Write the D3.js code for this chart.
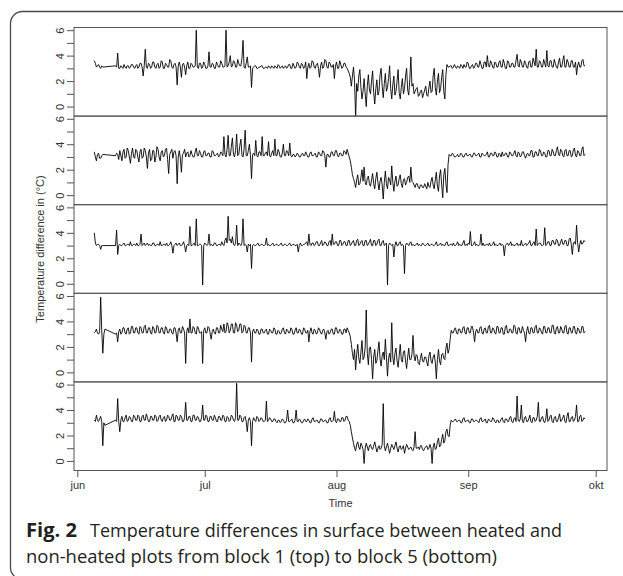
<!DOCTYPE html>
<html><head><meta charset="utf-8">
<script src="https://cdn.jsdelivr.net/npm/d3@7"></script>
<style>html,body{margin:0;padding:0;background:#fff;} svg{display:block;}</style>
</head><body>
<script>
// ---------- data (6-hourly readings from 5 Jun, null = no record) ----------
const seriesStart = "2013-06-05 00:00";
const stepHours = 6;

const block1 = [
3.6,3.4,3.1,3.2,3.3,3.1,3.0,3.2,3.1,null,null,null,null,null,null,null,null,null,null,null,
3.2,3.1,4.2,3.0,3.0,3.2,3.1,3.0,3.3,3.1,3.0,3.2,3.2,3.0,3.1,3.3,3.3,3.1,3.0,3.2,
3.3,3.0,3.1,3.4,3.4,3.1,2.4,3.2,4.5,3.1,3.0,3.4,3.3,3.0,3.1,3.5,3.5,3.1,3.0,3.3,
3.4,3.0,3.1,3.6,3.5,3.0,3.0,3.4,3.3,3.1,3.1,3.7,3.6,3.1,3.0,3.3,3.4,3.1,1.7,3.2,
3.5,3.1,2.3,3.3,3.4,3.1,2.5,3.2,3.5,3.0,3.0,3.4,3.3,3.1,3.1,3.2,6.0,3.1,3.0,3.4,
3.4,3.0,3.1,3.5,3.3,3.0,3.0,3.2,4.3,3.1,3.1,3.4,3.3,3.0,3.0,3.5,3.3,3.1,3.1,3.6,
3.4,3.1,3.1,3.2,6.0,3.1,3.2,3.5,4.0,3.1,3.2,3.6,3.5,3.1,3.1,3.7,3.4,3.2,3.2,3.8,
5.2,3.1,3.0,3.4,3.9,3.1,3.1,3.2,1.5,3.0,3.1,3.2,3.2,3.0,3.0,3.1,3.1,3.2,3.2,3.0,
3.0,3.1,3.1,3.0,3.2,3.1,3.0,3.2,3.1,3.0,3.2,3.1,3.0,3.3,3.2,3.0,3.1,3.2,3.0,3.1,
3.2,3.0,3.1,3.3,3.3,3.0,3.0,3.4,3.2,3.0,3.1,3.5,3.4,3.1,3.0,3.4,3.3,3.0,3.1,3.5,
2.2,3.1,3.4,3.0,3.1,3.6,3.5,3.1,3.0,3.3,3.4,3.0,2.3,3.2,3.5,3.0,3.1,3.7,3.6,3.1,
3.0,3.5,3.4,3.1,3.1,3.3,2.2,3.2,3.5,3.0,3.0,3.6,3.3,3.0,3.1,3.4,3.4,3.1,3.0,2.8,
2.6,2.3,1.6,2.4,3.1,2.0,-0.9,1.8,1.2,2.4,2.9,1.5,0.6,1.2,2.2,1.0,0.0,1.6,2.5,1.3,
1.0,2.0,2.8,1.1,0.2,1.4,2.1,0.9,1.2,2.5,3.0,1.6,0.7,1.8,2.6,1.2,1.5,2.2,3.2,1.4,
0.6,1.7,2.4,0.9,1.2,2.0,2.9,1.1,0.6,1.5,2.2,1.0,1.4,2.4,3.0,1.3,0.9,2.1,3.9,1.6,
1.8,1.0,1.2,1.4,1.5,0.8,0.9,1.2,1.3,0.7,1.0,1.3,1.6,0.9,0.8,1.5,2.0,1.1,1.2,2.4,
3.0,1.5,0.9,2.0,2.6,1.1,1.4,2.3,2.9,1.2,0.6,2.5,3.3,3.1,3.1,3.2,3.2,3.0,3.1,3.3,
3.1,3.0,3.2,3.1,3.0,3.3,3.2,3.0,3.3,3.1,3.1,3.5,3.4,3.0,3.0,3.2,3.3,3.0,3.1,3.4,
3.4,3.1,3.1,3.6,3.3,3.0,3.0,3.5,3.5,3.1,4.0,3.2,3.1,3.6,3.4,3.1,3.0,3.5,3.4,3.1,
3.1,3.5,3.6,3.1,3.1,3.7,3.4,3.0,3.0,3.6,3.5,3.1,3.1,3.4,3.4,3.1,3.1,3.6,4.1,3.2,
3.1,3.7,3.5,3.1,3.1,3.6,3.4,3.1,3.0,3.5,3.6,3.1,3.1,3.8,3.5,3.2,4.5,3.1,3.1,3.6,
3.5,3.1,3.1,3.7,3.4,3.1,4.4,3.2,3.1,3.6,3.6,3.1,3.1,3.7,3.4,3.1,3.0,3.5,3.8,3.1,
3.1,3.6,4.0,3.1,3.1,3.7,3.5,3.1,3.1,3.6,3.6,3.1,3.1,3.5,2.5,3.2,3.5,3.1,3.1,3.6,
3.7,3.2,3.2];

const block2 = [
3.4,3.0,2.7,3.2,3.3,2.9,2.9,3.1,3.2,null,null,null,null,null,null,null,null,null,null,null,
3.1,3.3,3.2,2.8,3.5,3.1,2.7,3.4,3.6,2.9,3.0,3.7,3.5,3.0,2.5,3.3,3.7,3.0,2.9,3.6,
3.5,3.0,2.6,3.4,3.6,2.9,3.0,3.7,3.5,3.0,2.1,3.3,3.6,2.7,2.8,3.5,3.5,2.6,3.0,3.8,
3.6,3.0,2.7,3.4,3.5,3.0,3.1,3.6,3.7,2.8,1.7,3.2,3.4,3.6,2.9,3.4,3.5,3.1,0.9,3.0,
3.5,2.9,1.8,3.2,3.3,3.6,3.0,3.3,3.4,3.0,3.1,3.5,3.2,3.0,3.0,3.4,3.7,3.1,3.1,3.5,
3.3,3.0,3.0,3.4,3.5,3.1,3.1,3.3,3.3,3.0,3.0,3.5,3.4,3.1,3.1,3.2,3.3,3.0,3.1,3.4,
3.3,3.1,4.6,3.2,3.0,3.6,4.7,3.1,3.1,3.8,4.5,3.2,3.0,3.5,4.8,3.1,3.2,3.9,4.4,3.1,
3.0,3.6,5.1,3.1,3.1,3.5,4.0,3.1,1.3,3.2,3.3,3.1,4.3,3.1,3.0,3.4,3.4,3.1,4.6,3.1,
3.1,3.3,3.4,3.1,4.2,3.1,3.0,3.3,3.5,3.1,4.4,3.1,3.1,3.6,3.4,3.0,3.0,3.3,4.0,3.1,
3.1,3.5,3.4,3.1,4.1,3.1,3.0,3.2,3.2,3.0,3.1,3.3,3.2,3.0,3.0,3.2,3.3,3.1,3.1,3.4,
3.2,3.0,3.0,3.3,3.4,3.1,3.1,3.2,3.3,3.0,3.0,3.4,3.3,3.1,3.1,3.5,3.4,3.1,2.2,3.2,
3.2,3.0,3.0,3.4,3.4,3.1,3.1,3.5,3.5,3.1,3.0,3.3,3.3,3.1,3.1,3.5,3.4,3.2,3.6,3.3,
3.0,2.7,2.2,1.6,1.3,1.0,0.6,1.2,1.6,0.8,0.9,1.4,2.0,1.1,2.2,1.0,0.8,1.3,1.5,0.9,
0.7,1.2,1.7,0.9,0.5,1.3,1.8,1.0,0.4,1.1,1.4,0.8,-0.3,1.0,1.9,0.9,0.5,1.4,1.2,0.8,
2.3,1.0,0.3,1.1,1.5,0.7,0.8,1.3,1.6,0.9,0.6,1.2,1.3,0.8,1.0,1.4,1.5,1.0,2.2,1.1,
1.0,0.8,0.6,0.9,0.9,0.6,0.5,0.8,0.8,0.6,0.6,0.9,0.7,0.5,1.0,0.7,0.6,1.1,1.4,0.8,
0.5,1.2,1.8,0.7,0.3,1.5,2.0,0.8,-0.2,1.6,2.1,0.9,0.2,2.4,3.2,3.1,3.1,3.3,3.2,3.0,
3.0,3.1,3.2,3.0,3.1,3.3,3.2,3.0,3.0,3.2,3.3,3.1,3.1,3.2,3.2,3.0,3.0,3.3,3.3,3.1,
3.1,3.2,3.3,3.0,3.0,3.3,3.2,3.1,3.1,3.2,3.4,3.0,3.0,3.3,3.3,3.1,3.1,3.4,3.3,3.0,
3.0,3.3,3.2,3.0,3.4,3.1,3.1,3.3,3.3,3.0,3.0,3.4,3.3,3.1,3.1,3.3,3.5,3.1,3.0,3.4,
3.3,3.0,3.1,3.4,3.4,3.1,2.9,3.2,3.3,3.1,3.1,3.5,3.5,3.0,3.0,3.4,3.4,3.1,3.1,3.6,
3.5,3.1,3.1,3.4,3.3,3.0,3.0,3.5,3.5,3.1,3.1,3.6,3.4,3.1,3.1,3.5,3.8,3.2,3.1,3.6,
3.5,3.1,3.0,3.5,3.6,3.1,3.1,3.5,3.5,3.0,3.1,3.6,3.7,3.1,3.0,3.5,3.4,3.1,3.1,3.6,
3.8,3.1,3.2];

const block3 = [
4.0,3.2,3.0,3.1,3.1,3.0,2.7,3.0,3.0,null,null,null,null,null,null,null,null,null,null,null,
3.0,4.2,2.3,3.0,3.1,3.0,3.0,3.1,3.2,3.0,3.0,3.1,3.1,3.0,3.3,3.0,3.0,3.1,3.1,3.0,
3.2,3.0,3.0,3.1,3.9,3.0,3.1,3.2,3.0,3.1,3.2,3.0,3.1,3.0,3.0,3.2,3.2,3.0,3.0,3.1,
3.1,3.0,3.3,3.0,3.0,3.1,3.1,3.0,3.2,3.0,3.0,3.1,3.3,3.0,2.4,3.0,3.1,3.2,3.0,3.1,
3.2,3.0,3.0,3.1,3.3,3.0,2.5,3.0,3.1,3.0,4.5,3.0,3.0,3.1,3.2,3.0,5.1,3.0,3.0,3.1,
3.1,3.0,-0.1,3.0,3.2,3.1,3.0,3.1,3.9,3.0,3.1,3.0,3.0,3.2,3.2,3.0,3.0,3.1,3.1,3.0,
3.3,3.1,3.0,3.4,3.6,3.2,5.3,3.4,3.5,3.2,3.7,3.1,3.0,3.2,4.6,3.0,3.2,3.1,3.0,3.2,
5.1,3.0,3.1,3.0,2.5,3.1,3.0,3.1,1.2,3.0,3.1,3.0,3.0,3.1,3.2,3.0,3.0,3.1,3.1,3.0,
3.0,3.1,3.6,3.0,3.1,3.0,3.0,3.1,3.2,3.0,3.0,3.1,3.1,3.0,3.0,3.1,3.2,3.0,3.0,3.1,
3.1,3.0,3.0,3.1,3.2,3.0,3.0,3.1,3.1,3.0,3.0,3.1,2.5,3.0,3.2,3.0,3.0,3.1,3.1,3.2,
3.3,3.0,3.9,3.1,3.0,3.2,3.2,3.0,3.1,3.3,3.3,3.0,3.0,3.2,3.4,3.0,3.1,3.3,3.2,3.0,
3.0,3.3,3.4,3.0,3.9,3.1,3.1,3.3,3.3,3.0,3.0,3.4,3.4,3.0,3.1,3.3,3.3,3.0,3.0,3.4,
3.4,3.0,3.1,3.3,3.4,3.0,3.0,3.4,3.5,3.0,3.1,3.3,3.4,3.0,3.0,3.4,3.4,3.0,3.1,3.3,
3.5,3.0,3.0,3.4,3.4,3.0,3.1,3.4,3.5,3.0,3.0,3.3,3.4,3.0,3.1,3.2,-0.1,3.0,3.2,3.1,
3.0,3.1,2.1,3.0,3.3,3.0,3.0,3.2,3.3,3.0,3.1,3.0,0.8,3.0,3.2,3.1,3.0,3.2,3.3,3.0,
3.1,3.0,3.0,3.1,3.2,3.0,3.1,3.0,3.0,3.2,3.1,3.0,3.0,3.1,3.2,3.0,3.0,3.1,3.1,3.0,
3.0,3.1,3.3,3.0,3.0,3.1,3.2,3.0,3.1,3.0,3.0,3.2,3.3,3.0,3.0,3.1,3.1,3.0,3.2,3.0,
3.0,3.1,3.3,3.0,3.1,3.0,3.0,3.2,3.4,3.0,3.1,3.0,3.2,3.1,4.1,3.0,3.0,3.1,3.3,3.0,
3.1,3.0,3.0,3.1,3.9,3.0,3.2,3.0,3.0,3.1,3.1,3.0,3.2,3.0,3.0,3.1,3.3,3.0,3.1,3.0,
3.0,3.1,3.2,3.0,3.1,3.0,2.2,3.0,3.1,3.2,3.0,3.1,3.3,3.0,3.1,3.0,3.0,3.1,3.2,3.0,
3.1,3.0,3.4,3.0,3.0,3.1,3.2,3.0,3.1,3.2,3.4,3.0,3.0,3.2,3.3,3.0,4.3,3.0,3.1,3.2,
3.2,3.0,3.0,3.1,4.4,3.0,3.1,3.3,3.3,3.0,3.0,3.4,3.4,3.1,3.1,3.5,3.4,3.0,3.0,3.3,
3.5,3.1,3.1,3.4,3.4,3.0,3.0,3.5,3.6,3.1,2.3,3.2,3.3,3.1,4.6,3.2,2.5,3.1,3.4,3.1,
3.2,3.4,3.3];

const block4 = [
3.1,3.2,3.4,3.1,3.0,3.2,5.9,3.3,1.5,3.0,3.4,null,null,null,null,null,null,null,null,null,
3.0,3.1,2.4,3.2,3.4,3.0,3.1,3.5,3.5,3.1,3.0,3.4,3.5,3.0,3.1,3.6,3.6,3.1,3.1,3.5,
3.5,3.1,3.0,3.6,3.5,3.1,3.1,3.6,3.7,3.1,3.1,3.5,3.5,3.1,3.0,3.6,3.5,3.1,3.1,3.7,
3.6,3.1,3.1,3.5,3.5,3.1,3.0,3.6,3.5,3.1,3.1,3.4,3.4,3.1,3.0,3.5,3.5,3.1,2.4,3.3,
3.5,3.1,3.1,3.6,3.4,3.1,0.7,3.2,3.5,3.1,4.2,3.1,3.1,3.6,3.5,3.1,3.0,3.6,3.5,3.1,
3.1,3.2,0.7,3.3,3.5,3.1,3.1,3.6,3.5,3.1,2.6,3.2,3.4,3.1,3.0,3.5,3.5,3.1,3.1,3.7,
3.4,3.2,3.8,3.1,3.2,3.9,3.7,3.1,3.3,3.8,3.8,3.1,3.1,3.9,3.7,3.2,3.3,3.8,3.8,3.1,
3.2,3.7,3.6,3.1,3.1,3.5,3.5,3.1,0.8,3.2,3.4,3.1,3.1,3.4,3.3,3.0,3.0,3.4,3.4,3.1,
3.1,3.3,3.4,3.0,3.0,3.4,3.3,3.1,3.1,3.5,3.4,3.0,3.0,3.3,3.2,3.0,3.1,3.4,3.5,3.1,
3.0,3.4,3.3,3.1,3.1,3.5,3.4,3.0,3.0,3.3,3.5,3.1,3.1,3.4,3.3,3.0,3.0,3.5,3.4,3.1,
3.1,3.3,2.4,3.2,3.5,3.1,3.0,3.4,3.3,3.0,3.1,3.5,3.4,3.1,3.0,3.3,3.4,3.1,2.6,3.2,
3.3,3.0,3.1,3.4,3.4,3.0,3.0,3.5,3.5,3.1,3.1,3.4,3.3,3.0,3.0,3.4,3.4,3.1,3.5,3.3,
3.1,2.8,2.2,1.5,1.0,1.8,0.2,1.4,2.2,1.1,0.7,1.6,2.5,1.0,1.2,2.0,4.9,1.5,0.6,1.9,
2.0,1.0,-0.5,1.2,1.8,0.7,0.9,1.7,2.4,1.1,0.5,1.3,1.6,1.0,2.6,1.2,-0.3,1.1,1.5,0.8,
3.9,1.2,0.6,1.5,1.9,0.9,0.4,1.3,2.2,1.0,0.8,1.6,1.7,0.9,0.3,1.2,1.9,1.0,1.0,1.4,
2.9,1.3,0.9,1.4,1.3,0.7,0.6,1.1,1.5,0.9,0.8,1.2,1.2,0.8,0.5,1.3,1.6,0.9,0.7,1.2,
1.4,0.8,-0.5,1.0,1.8,0.9,0.6,1.4,1.5,1.1,1.0,1.9,2.3,1.5,1.8,2.6,3.3,3.1,3.1,3.4,
3.5,3.1,3.0,3.4,3.4,3.1,3.1,3.5,3.6,3.1,3.0,3.5,3.5,3.1,3.1,3.6,3.6,3.1,2.4,3.2,
3.4,3.1,3.1,3.5,3.6,3.1,3.0,3.4,3.5,3.1,3.1,3.6,3.7,3.1,3.1,3.5,3.4,3.1,3.0,3.6,
3.6,3.1,3.1,3.5,3.5,3.0,3.0,3.6,3.7,3.1,3.1,3.4,3.4,3.1,3.1,3.7,3.6,3.1,3.0,3.5,
3.5,3.1,3.1,3.6,3.3,3.1,2.4,3.2,3.6,3.1,3.0,3.5,3.5,3.1,3.1,3.6,3.7,3.1,3.1,3.5,
3.4,3.1,3.0,3.6,3.6,3.1,3.1,3.5,3.5,3.1,3.1,3.7,3.7,3.1,3.0,3.5,3.6,3.1,3.1,3.6,
3.4,3.1,3.1,3.6,3.7,3.1,3.0,3.5,3.5,3.1,3.1,3.6,3.6,3.1,3.0,3.5,3.4,3.1,3.1,3.6,
3.6,3.1,3.2];

const block5 = [
3.2,3.1,3.6,3.2,3.1,3.3,3.5,3.1,1.2,3.0,2.8,null,null,null,null,null,null,null,null,null,
3.2,3.1,4.9,3.1,2.3,3.2,3.5,3.1,3.1,3.4,3.6,3.1,3.2,3.5,3.4,3.1,3.1,3.6,3.5,3.2,
3.2,3.6,3.5,3.1,3.1,3.5,3.6,3.2,3.2,3.7,3.4,3.1,3.1,3.5,3.5,3.2,3.2,3.6,3.5,3.1,
3.2,3.5,3.6,3.2,3.1,3.4,3.5,3.1,3.2,3.6,3.5,3.2,3.2,3.5,3.7,3.1,3.1,3.6,3.5,3.2,
3.2,3.6,3.5,3.1,3.1,3.4,4.6,3.2,3.2,3.5,3.5,3.1,3.1,3.6,3.6,3.2,3.2,3.5,3.4,3.1,
3.1,3.4,4.4,3.2,3.2,3.6,3.5,3.1,3.1,3.5,3.5,3.2,3.2,3.6,3.4,3.1,3.1,3.5,3.5,3.2,
3.2,3.6,3.5,3.1,3.1,3.5,3.4,3.1,3.2,3.6,3.5,3.2,3.1,3.4,6.1,3.2,3.2,3.6,3.5,3.1,
3.1,3.4,3.5,3.1,2.3,3.2,3.4,3.1,1.2,3.1,3.4,3.2,3.1,3.5,3.4,3.1,3.2,3.4,3.3,3.1,
3.1,3.2,4.7,3.1,3.2,3.4,3.3,3.1,3.1,3.3,3.3,3.1,3.0,3.2,3.2,3.0,3.1,3.3,3.2,3.0,
3.0,3.2,4.0,3.1,3.1,3.2,3.3,3.0,3.0,3.2,4.0,3.1,3.1,3.3,3.2,3.0,3.0,3.2,3.3,3.1,
3.1,3.3,3.2,3.0,3.0,3.3,3.4,3.1,3.1,3.2,3.2,3.0,3.0,3.3,3.3,3.1,3.1,3.2,3.2,3.0,
3.0,3.3,3.4,3.1,3.1,3.2,3.9,3.1,3.0,3.3,3.3,3.1,3.1,3.4,3.4,3.1,3.2,3.5,3.5,3.2,
3.1,2.8,2.3,1.8,1.4,1.0,0.8,1.3,1.5,1.1,0.9,1.4,1.2,0.9,-0.2,1.0,1.4,1.1,0.8,1.2,
1.3,1.0,0.9,1.2,1.5,1.1,0.7,1.0,1.2,0.9,1.0,1.3,4.5,1.2,0.8,1.1,1.4,1.0,0.6,1.0,
1.3,1.1,0.9,1.2,1.5,1.0,0.7,1.1,1.2,0.9,1.0,1.2,0.6,1.0,1.3,1.1,0.9,1.0,1.1,0.9,
0.8,1.1,2.3,1.0,1.0,1.1,0.9,1.2,1.2,0.9,0.8,1.0,1.1,1.2,0.9,1.0,1.3,1.0,-0.2,1.1,
1.4,0.9,1.0,1.5,1.8,1.1,1.2,1.7,2.1,1.4,1.6,2.3,2.5,2.0,1.9,2.8,3.2,3.1,3.1,3.2,
3.3,3.1,3.1,3.2,3.2,3.0,3.0,3.3,3.4,3.1,3.1,3.2,3.2,3.0,3.0,3.3,3.3,3.1,3.1,3.2,
3.2,3.1,3.0,3.3,3.4,3.1,3.1,3.2,3.3,3.0,3.0,3.3,3.2,3.1,3.1,3.4,3.3,3.1,3.0,3.2,
3.2,3.0,3.1,3.3,3.4,3.1,3.0,3.3,3.3,3.1,3.1,3.4,3.5,3.1,3.0,3.3,3.4,3.1,5.1,3.2,
3.1,3.3,4.4,3.1,3.0,3.4,3.5,3.1,3.1,3.3,3.6,3.1,3.0,3.4,3.4,3.1,3.2,3.5,4.6,3.1,
3.1,3.4,3.5,3.1,3.0,3.3,4.1,3.1,3.2,3.5,3.6,3.1,3.0,3.4,3.5,3.1,3.1,3.4,3.7,3.1,
3.2,3.4,3.6,3.1,3.0,3.5,3.8,3.1,3.1,3.4,3.5,3.1,3.2,3.5,4.4,3.1,3.1,3.5,3.6,3.1,
3.2,3.4,3.3];

const blocks = [block1, block2, block3, block4, block5];

const monthTickDates = ["2013-06-01 00:00","2013-07-01 00:00","2013-08-01 00:00","2013-09-01 00:00","2013-10-01 00:00"];
const monthLabels = ["jun","jul","aug","sep","okt"];
const xDomainDates = ["2013-05-31 05:20","2013-10-03 15:50"];
const yTickValues = [0,1,2,3,4,5,6];
const yLabelValues = [0,2,4,6];
const yDomain = [-0.75, 6.21];

const yTitle = "Temperature difference in (°C)";
const xTitle = "Time";
const captionBold = "Fig. 2";
const captionLine1 = "Temperature differences in surface between heated and";
const captionLine2 = "non-heated plots from block 1 (top) to block 5 (bottom)";

// ---------- layout ----------
const W = 623, H = 576;
const L = 74, R = 607, T = 27.5, B = 470.5;
const panelH = (B - T) / blocks.length;
const axisFont = "'Liberation Sans', Arial, sans-serif";
const capFont = "'Open Sans', 'Noto Sans', sans-serif";

const parse = d3.timeParse("%Y-%m-%d %H:%M");
const t0 = parse(seriesStart);

const svg = d3.select("body").append("svg").attr("width", W).attr("height", H);

// outer rounded frame
svg.append("rect").attr("x", 10.5).attr("y", 11.5).attr("width", 640).attr("height", 568)
  .attr("rx", 12).attr("fill", "none").attr("stroke", "#4a4a4a").attr("stroke-width", 1.3);

const x = d3.scaleTime().domain(xDomainDates.map(parse)).range([L, R]);

blocks.forEach((vals, k) => {
  const top = T + k * panelH;
  const y = d3.scaleLinear().domain(yDomain).range([top + panelH, top]);
  const pts = vals.map((v, i) => ({t: d3.timeHour.offset(t0, i * stepHours), v}))
                  .filter(d => d.v !== null);

  const cid = "clip" + k;
  svg.append("clipPath").attr("id", cid).append("rect")
    .attr("x", L).attr("y", top).attr("width", R - L).attr("height", panelH);

  svg.append("path").datum(pts)
    .attr("clip-path", `url(#${cid})`)
    .attr("fill", "none").attr("stroke", "#000").attr("stroke-width", 0.9)
    .attr("stroke-linejoin", "miter")
    .attr("d", d3.line().x(d => x(d.t)).y(d => y(d.v)));

  svg.append("rect").attr("x", L).attr("y", top).attr("width", R - L).attr("height", panelH)
    .attr("fill", "none").attr("stroke", "#555").attr("stroke-width", 1);

  const ax = svg.append("g").attr("transform", `translate(${L},0)`)
    .call(d3.axisLeft(y).tickValues(yTickValues).tickSize(7).tickPadding(0)
      .tickFormat(d => yLabelValues.includes(d) ? d : ""));
  ax.select(".domain").remove();
  ax.selectAll("line").attr("stroke", "#555");
  ax.selectAll("text")
    .attr("transform", "rotate(-90)")
    .attr("x", 0).attr("y", -14).attr("dy", "0.35em")
    .attr("text-anchor", "middle")
    .attr("font-family", axisFont).attr("font-size", 11).attr("fill", "#333");
});

// x axis
const monthDates = monthTickDates.map(parse);
const xa = svg.append("g").attr("transform", `translate(0,${B})`)
  .call(d3.axisBottom(x).tickValues(monthDates).tickSize(6.5).tickPadding(0)
    .tickFormat((d, i) => monthLabels[i]));
xa.select(".domain").remove();
xa.selectAll("line").attr("stroke", "#555");
xa.selectAll("text").attr("y", 11).attr("dy", "0.71em")
  .attr("font-family", axisFont).attr("font-size", 11).attr("fill", "#333");
svg.append("line").attr("x1", x(monthDates[0])).attr("x2", x(monthDates[monthDates.length-1]))
  .attr("y1", B).attr("y2", B).attr("stroke", "#555");

// titles
svg.append("text").attr("x", (L + R) / 2).attr("y", 507).attr("text-anchor", "middle")
  .attr("font-family", axisFont).attr("font-size", 11).attr("fill", "#333").text(xTitle);
svg.append("text").attr("transform", `translate(44,${(T + B) / 2}) rotate(-90)`)
  .attr("text-anchor", "middle")
  .attr("font-family", axisFont).attr("font-size", 11).attr("fill", "#333").text(yTitle);

// caption
const cap = svg.append("g").attr("font-family", capFont).attr("fill", "#231f20").attr("font-size", 19);
cap.append("text").attr("x", 26).attr("y", 537).attr("font-weight", 700)
  .attr("textLength", 51).attr("lengthAdjust", "spacingAndGlyphs").text(captionBold);
cap.append("text").attr("x", 90).attr("y", 537)
  .attr("textLength", 472).attr("lengthAdjust", "spacingAndGlyphs").text(captionLine1);
cap.append("text").attr("x", 26).attr("y", 563)
  .attr("textLength", 471).attr("lengthAdjust", "spacingAndGlyphs").text(captionLine2);
</script>
</body></html>
